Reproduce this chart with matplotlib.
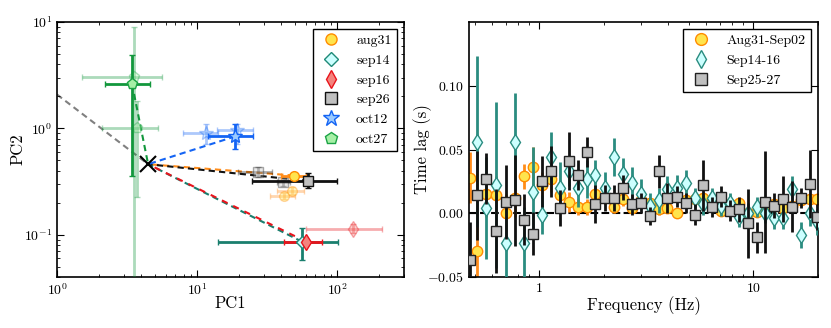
import numpy as np
import matplotlib
matplotlib.use("Agg")
import matplotlib.pyplot as plt
from matplotlib.lines import Line2D
from matplotlib.ticker import FixedLocator, FixedFormatter, NullFormatter, LogLocator

plt.rcParams['font.family'] = ['cmr10', 'DejaVu Serif']
plt.rcParams['mathtext.fontset'] = 'cm'
plt.rcParams['axes.formatter.use_mathtext'] = True

# ---- left panel: PC1 / PC2 ------------------------------------------------
# rows: [pc1, pc1_lo, pc1_hi, pc2, pc2_lo, pc2_hi]; first row = main point,
# the others are drawn faded
aug31 = [[49.0, 40.0, 60.0, 0.36, 0.34, 0.38],
         [47.7, 37.0, 58.0, 0.26, 0.24, 0.28],
         [41.8, 33.0, 50.0, 0.23, 0.215, 0.245]]
sep14 = [[56.0, 14.1, 101.0, 0.086, 0.058, 0.116]]
sep16 = [[60.0, 41.8, 78.0, 0.086, 0.082, 0.090],
         [130.0, 60.0, 210.0, 0.114, 0.104, 0.125]]
sep26 = [[62.0, 24.7, 100.0, 0.32, 0.275, 0.38],
         [27.3, 19.6, 34.0, 0.39, 0.35, 0.43],
         [41.1, 37.0, 46.0, 0.31, 0.29, 0.33]]
oct12 = [[18.7, 12.0, 25.0, 0.84, 0.64, 1.09],
         [11.6, 7.9, 14.0, 0.90, 0.72, 1.11],
         [19.3, 13.9, 25.0, 0.96, 0.72, 1.11]]
oct27 = [[3.43, 2.2, 4.6, 2.63, 0.36, 4.9],
         [3.55, 1.5, 5.6, 3.06, 0.01, 8.9],
         [3.72, 2.1, 5.3, 1.00, 0.226, 1.79]]
cross_pc1, cross_pc2 = 4.47, 0.46
grey_line_pc1 = [1.0, 4.47]
grey_line_pc2 = [2.08, 0.46]

# ---- right panel: time lags -------------------------------------------------
freq = [0.476, 0.513, 0.565, 0.630, 0.701, 0.773, 0.851, 0.937, 1.033, 1.138,
        1.253, 1.381, 1.521, 1.676, 1.827, 2.033, 2.240, 2.469, 2.720, 2.996,
        3.301, 3.636, 3.963, 4.414, 4.863, 5.357, 5.838, 6.433, 7.087, 7.808,
        8.601, 9.476, 10.44, 11.38, 12.54, 13.81, 15.21, 16.76, 18.46, 19.91]

lag_aug = [0.028, -0.030, 0.015, 0.014, 0.000, 0.012, 0.029, 0.036, 0.022, 0.027,
           0.014, 0.009, 0.005, 0.005, 0.015, 0.012, 0.005, 0.011, 0.004, 0.010,
           0.008, 0.003, 0.004, 0.000, 0.010, 0.011, 0.012, 0.010, 0.002, 0.007,
           0.008, 0.000, 0.001, 0.006, 0.007, 0.004, 0.006, 0.010, 0.011, 0.011]
err_aug = [0.02, 0.025, 0.018, 0.015, 0.015, 0.015, 0.010, 0.016, 0.010, 0.010,
           0.008, 0.008, 0.006, 0.006, 0.006, 0.005, 0.005, 0.005, 0.004, 0.004,
           0.004, 0.004, 0.004, 0.004, 0.004, 0.004, 0.004, 0.004, 0.004, 0.004,
           0.004, 0.004, 0.004, 0.004, 0.004, 0.004, 0.004, 0.004, 0.004, 0.004]

lag_sep14 = [np.nan, 0.056, 0.004, 0.022, -0.023, 0.056, -0.023, 0.017, -0.001, 0.044,
             0.020, 0.033, 0.020, 0.027, 0.030, 0.020, 0.044, 0.031, 0.024, 0.015,
             0.006, 0.010, 0.019, 0.020, 0.024, 0.012, 0.007, 0.012, 0.006, 0.008,
             -0.003, 0.000, 0.005, 0.000, -0.004, -0.004, 0.019, -0.017, 0.000, -0.007]
err_sep14 = [0.0, 0.067, 0.040, 0.065, 0.035, 0.038, 0.028, 0.035, 0.015, 0.020,
             0.020, 0.012, 0.015, 0.015, 0.012, 0.012, 0.015, 0.012, 0.012, 0.012,
             0.010, 0.010, 0.010, 0.010, 0.010, 0.008, 0.008, 0.008, 0.008, 0.008,
             0.008, 0.008, 0.008, 0.008, 0.008, 0.008, 0.010, 0.010, 0.010, 0.010]

lag_sep26 = [-0.037, 0.014, 0.027, -0.014, 0.009, 0.010, -0.005, -0.016, 0.025, 0.033,
             0.004, 0.041, 0.030, 0.048, 0.007, 0.012, 0.012, 0.020, 0.007, 0.008,
             -0.002, 0.033, 0.012, 0.013, 0.008, -0.001, 0.022, 0.005, 0.013, 0.002,
             0.003, -0.008, -0.019, 0.009, 0.006, 0.011, 0.005, 0.012, 0.023, -0.003]
err_sep26 = [0.030, 0.035, 0.020, 0.033, 0.029, 0.036, 0.020, 0.017, 0.020, 0.020,
             0.014, 0.023, 0.012, 0.012, 0.015, 0.010, 0.010, 0.010, 0.008, 0.008,
             0.007, 0.013, 0.012, 0.008, 0.008, 0.008, 0.020, 0.008, 0.008, 0.008,
             0.010, 0.027, 0.012, 0.040, 0.010, 0.018, 0.020, 0.008, 0.027, 0.010]

fig = plt.figure(figsize=(8.31, 3.28), dpi=100)
ax1 = fig.add_axes([0.0686, 0.1555, 0.4176, 0.7774])
ax2 = fig.add_axes([0.5644, 0.1555, 0.42, 0.7774])

styles = [
    ('aug31', aug31, 'o', '#FFE44D', '#FF8C00', '#FF8C1A', 7),
    ('sep14', sep14, 'D', '#CCFFFF', '#1F8A78', '#1A7F6E', 6),
    ('sep16', sep16, 'd', '#F4837D', '#E8141C', '#E8141C', 8),
    ('sep26', sep26, 's', '#C0C0C0', '#111111', '#111111', 7),
    ('oct12', oct12, '*', '#9CCBFF', '#1464F4', '#1464F4', 10),
    ('oct27', oct27, 'p', '#A6F0A6', '#1BA345', '#12973C', 8),
]

# grey reference line and the dashed links to the cross
ax1.plot(grey_line_pc1, grey_line_pc2, '--', color='#808080', lw=1.5, dashes=(3, 2), zorder=1)
for name, rows, mk, fc, ec, erc, ms in styles:
    x0, y0 = rows[0][0], rows[0][3]
    dash = (3, 3) if name == 'sep16' else (3, 2)
    ax1.plot([x0, cross_pc1], [y0, cross_pc2], ls='--', dashes=dash,
             color=erc, lw=1.5, zorder=2)

for name, rows, mk, fc, ec, erc, ms in styles:
    for i, r in enumerate(rows):
        x, xlo, xhi, y, ylo, yhi = r
        a = 1.0 if i == 0 else 0.35
        ax1.errorbar([x], [y], xerr=[[x - xlo], [xhi - x]], yerr=[[y - ylo], [yhi - y]],
                     fmt=mk, mfc=fc, mec=ec, mew=1.0, ms=ms, ecolor=erc,
                     elinewidth=2.0, capsize=2, capthick=1.5, alpha=a,
                     zorder=4 if i == 0 else 3)

ax1.plot([cross_pc1], [cross_pc2], 'x', color='k', ms=12, mew=1.5, zorder=6)

ax1.set_xscale('log')
ax1.set_yscale('log')
ax1.set_xlim(1, 300)
ax1.set_ylim(0.04, 10)
ax1.set_xlabel('PC1', fontsize=12)
ax1.set_ylabel('PC2', fontsize=12)
ax1.xaxis.set_label_coords(0.5, -0.075)
ax1.yaxis.set_label_coords(-0.092, 0.5)

handles = [Line2D([], [], ls='none', marker=mk, mfc=fc, mec=ec, ms=ms + 1 if mk != '*' else ms + 2)
           for name, rows, mk, fc, ec, erc, ms in styles]
leg = ax1.legend(handles, [s[0] for s in styles], loc='upper right', numpoints=1,
                 fontsize=10, fancybox=False, framealpha=1, edgecolor='k',
                 handletextpad=0.9, handlelength=1.8, borderaxespad=0.5)
leg.get_frame().set_linewidth(1.0)

# ---- right panel ---------------------------------------------------------
ax2.axhline(0, color='k', ls='--', lw=1.5, zorder=1)
ax2.errorbar(freq, lag_aug, yerr=err_aug, fmt='o', mfc='#FFE44D', mec='#FF8C00', mew=1.0,
             ms=7.5, ecolor='#FF8C1A', elinewidth=2.0, capsize=0, zorder=2, label='Aug31-Sep02')
ax2.errorbar(freq, lag_sep14, yerr=err_sep14, fmt='d', mfc='#CCFFFF', mec='#2A8C80', mew=1.0,
             ms=8, ecolor='#2A8C80', elinewidth=2.0, capsize=0, zorder=3, label='Sep14-16')
ax2.errorbar(freq, lag_sep26, yerr=err_sep26, fmt='s', mfc='#C0C0C0', mec='#222222', mew=1.0,
             ms=7.5, ecolor='#111111', elinewidth=2.0, capsize=0, zorder=4, label='Sep25-27')

ax2.set_xscale('log')
ax2.set_xlim(0.47, 20.1)
ax2.set_ylim(-0.05, 0.15)
ax2.xaxis.set_major_locator(FixedLocator([1, 10]))
ax2.xaxis.set_major_formatter(FixedFormatter(['$1$', '$10$']))
ax2.xaxis.set_minor_locator(LogLocator(base=10, subs=np.arange(2, 10)))
ax2.xaxis.set_minor_formatter(NullFormatter())
ax2.set_yticks([-0.05, 0.0, 0.05, 0.10])
ax2.set_yticklabels(['$-0.05$', '$0.00$', '$0.05$', '$0.10$'])
ax2.set_xlabel('Frequency (Hz)', fontsize=12)
ax2.set_ylabel('Time lag (s)', fontsize=12)
ax2.xaxis.set_label_coords(0.5, -0.075)
ax2.yaxis.set_label_coords(-0.106, 0.5)

handles2, labels2 = ax2.get_legend_handles_labels()
handles2 = [Line2D([], [], ls='none', marker='o', mfc='#FFE44D', mec='#FF8C00', ms=8.5),
            Line2D([], [], ls='none', marker='d', mfc='#CCFFFF', mec='#2A8C80', ms=9),
            Line2D([], [], ls='none', marker='s', mfc='#C0C0C0', mec='#222222', ms=8.5)]
leg2 = ax2.legend(handles2, labels2, loc='upper right', numpoints=1, fontsize=10,
                  fancybox=False, framealpha=1, edgecolor='k', handletextpad=0.9,
                  handlelength=1.8, borderaxespad=0.5)
leg2.get_frame().set_linewidth(1.0)

for ax in (ax1, ax2):
    ax.tick_params(which='both', direction='in', top=True, right=True, labelsize=10)
    ax.tick_params(which='major', length=5, width=0.8)
    ax.tick_params(which='minor', length=2.5, width=0.6)
    for sp in ax.spines.values():
        sp.set_linewidth(1.2)

fig.savefig('out.png', dpi=100)
